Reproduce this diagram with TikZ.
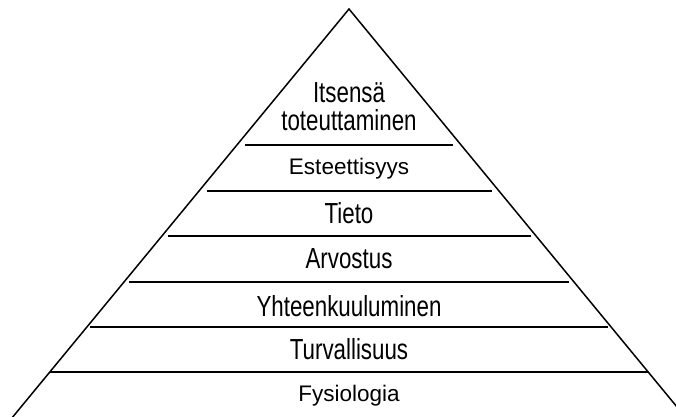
\documentclass[tikz,border=0pt]{standalone}
\usepackage{fontspec}
\setmainfont{Liberation Sans}
\begin{document}
\begin{tikzpicture}[x=1pt,y=-1pt,
  edge/.style={line width=1.5pt, line join=miter},
  level/.style={line width=1.6pt},
  narrow/.style={anchor=base, inner sep=0pt, font=\fontsize{29}{29}\selectfont},
  wide/.style={anchor=base, inner sep=0pt, font=\fontsize{22.5}{22.5}\selectfont}]
\useasboundingbox (0,0) rectangle (676,416);
\clip (0,0) rectangle (676,416);
\fill[white] (0,0) rectangle (676,416);
\coordinate (apex) at (349,9);
\coordinate (bl) at (2,430);
\coordinate (br) at (696,430);
\draw[edge] (bl) -- (apex) -- (br);
% level separators
\foreach \y/\h/\n in {145/104/a, 191/142.5/b, 236/181.5/c, 282/220/d, 327/259/e, 372/299/f}{
  \coordinate (l\n) at (349-\h,\y);
  \coordinate (r\n) at (349+\h,\y);
  \draw[level] (l\n) -- (r\n);
}
\node[narrow] (t1a) at (349,102) {\scalebox{0.77}[1]{Itsensä}};
\node[narrow] (t1b) at (349,130) {\scalebox{0.77}[1]{toteuttaminen}};
\node[wide] (t2) at (349,174) {Esteettisyys};
\node[narrow] (t3) at (349,223) {\scalebox{0.77}[1]{Tieto}};
\node[narrow] (t4) at (349,268) {\scalebox{0.77}[1]{Arvostus}};
\node[narrow] (t5) at (349,316) {\scalebox{0.77}[1]{Yhteenkuuluminen}};
\node[narrow] (t6) at (349,359) {\scalebox{0.77}[1]{Turvallisuus}};
\node[wide] (t7) at (349,401) {Fysiologia};
\end{tikzpicture}
\end{document}
